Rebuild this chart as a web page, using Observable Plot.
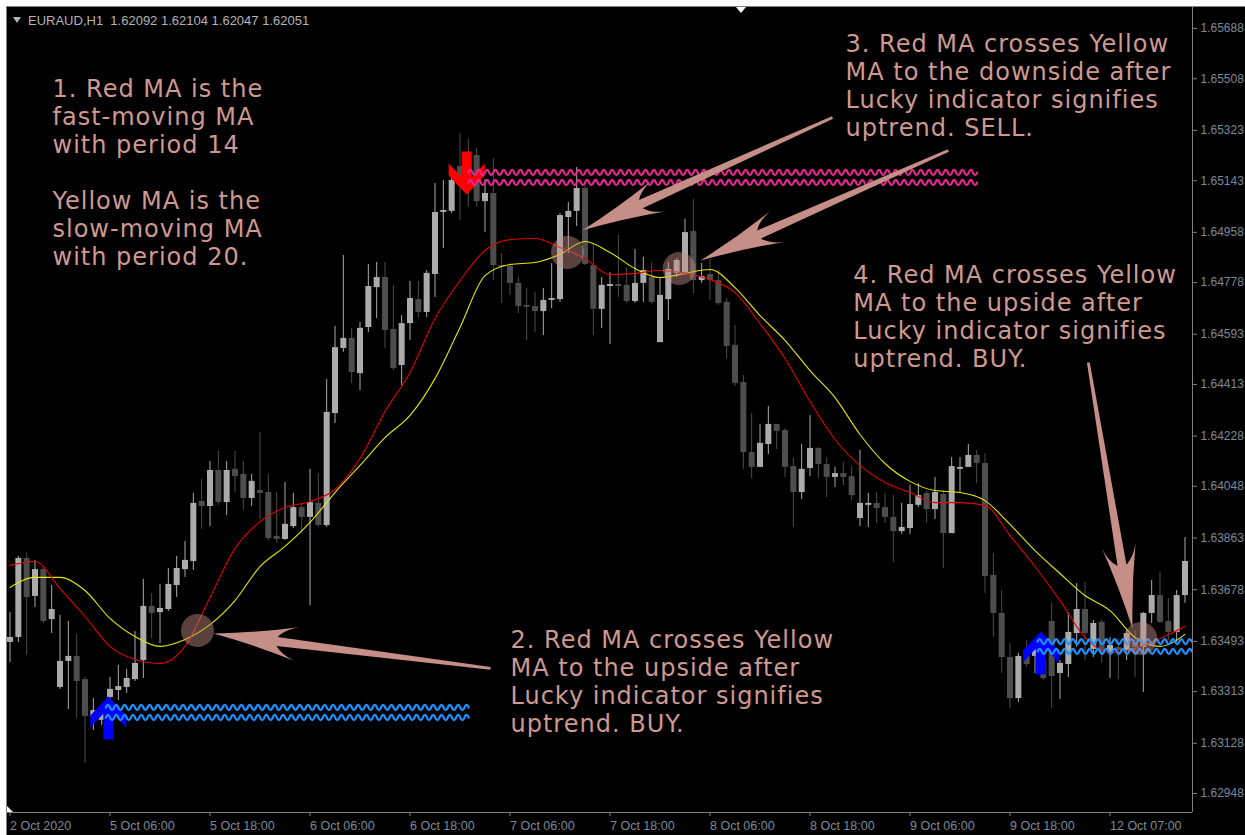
<!DOCTYPE html>
<html><head><meta charset="utf-8">
<script src="https://cdn.jsdelivr.net/npm/d3@7"></script>
<script src="https://cdn.jsdelivr.net/npm/@observablehq/plot@0.6"></script>
<style>
html,body{margin:0;padding:0;background:#fff;}
#wrap{position:relative;width:1245px;height:835px;overflow:hidden;background:#fff;}
#chart{position:absolute;left:6px;top:6px;border-left:1px solid #808080;border-top:1px solid #808080;background:#000;}
#chart svg{display:block;}
#chart g[aria-label="text"] text{letter-spacing:1px;}
#hdrTri{position:absolute;left:13px;top:17px;width:0;height:0;border-left:4px solid transparent;border-right:4px solid transparent;border-top:6px solid #b4b4b4;}
#hdr{position:absolute;left:28px;top:13px;font:13px "Liberation Sans",Arial,sans-serif;color:#b4b4b4;white-space:pre;line-height:15px;}
#shiftTri{position:absolute;left:736px;top:7px;width:0;height:0;border-left:5px solid transparent;border-right:5px solid transparent;border-top:6px solid #fff;}
#cornerTri{position:absolute;left:7px;top:806px;width:6px;height:6px;background:#fff;clip-path:polygon(0 0,0 100%,100% 100%);}
</style></head>
<body>
<div id="wrap">
  <div id="chart"></div>
  <div id="hdrTri"></div>
  <div id="hdr">EURAUD,H1  1.62092 1.62104 1.62047 1.62051</div>
  <div id="shiftTri"></div>
  <div id="cornerTri"></div>
</div>
<script>
// ---------------- DATA ----------------
const opens = [1.63489,1.63507,1.63790,1.63654,1.63750,1.63571,1.63328,1.63421,1.63439,1.63356,
1.63220,1.63210,1.63292,1.63317,1.63328,1.63356,1.63424,1.63618,1.63596,1.63607,
1.63693,1.63750,1.63779,1.63994,1.63976,1.64105,1.63990,1.64109,1.64091,1.64005,
1.64033,1.64026,1.63869,1.63858,1.63904,1.63972,1.63937,1.63987,1.63908,1.64309,
1.64542,1.64578,1.64452,1.64617,1.64760,1.64796,1.64610,1.64481,1.64631,1.64717,
1.64671,1.64807,1.65029,1.65033,1.65194,1.65215,1.65233,1.65068,1.65097,1.64839,
1.64836,1.64775,1.64696,1.64692,1.64674,1.64714,1.64717,1.65011,1.65033,1.65115,
1.64839,1.64682,1.64764,1.64771,1.64768,1.64710,1.64775,1.64796,1.64563,1.64717,
1.64811,1.64814,1.64961,1.64785,1.64807,1.64785,1.64707,1.64553,1.64420,1.64169,
1.64116,1.64198,1.64270,1.64248,1.64119,1.64026,1.64112,1.64184,1.64126,1.64080,
1.64094,1.64083,1.63933,1.63980,1.63987,1.63972,1.63937,1.63886,1.63897,1.63980,
1.64023,1.63965,1.64019,1.63879,1.64109,1.64116,1.64159,1.64130,1.63729,1.63593,
1.63435,1.63288,1.63439,1.63439,1.63424,1.63564,1.63378,1.63410,1.63521,1.63607,
1.63464,1.63561,1.63450,1.63471,1.63460,1.63485,1.63471,1.63593,1.63657,1.63564,
1.63525,1.63657];
const highs = [1.63596,1.63797,1.63811,1.63783,1.63758,1.63693,1.63586,1.63564,1.63518,1.63364,
1.63288,1.63263,1.63364,1.63407,1.63392,1.63528,1.63715,1.63664,1.63697,1.63754,
1.63797,1.63851,1.64023,1.64073,1.64137,1.64173,1.64137,1.64173,1.64137,1.64091,
1.64241,1.64091,1.64026,1.64062,1.64023,1.63987,1.64109,1.64094,1.64431,1.64621,
1.64875,1.64614,1.64635,1.64843,1.64850,1.64850,1.64768,1.64660,1.64782,1.64782,
1.64821,1.65133,1.65144,1.65151,1.65312,1.65290,1.65258,1.65147,1.65222,1.64882,
1.64846,1.64796,1.64757,1.64742,1.64757,1.64846,1.65025,1.65065,1.65190,1.65126,
1.64918,1.64796,1.64814,1.64947,1.64832,1.64897,1.64868,1.64850,1.64796,1.64850,
1.64864,1.65004,1.65076,1.64846,1.64861,1.64821,1.64721,1.64624,1.64445,1.64309,
1.64270,1.64334,1.64270,1.64255,1.64148,1.64198,1.64302,1.64187,1.64151,1.64116,
1.64134,1.64119,1.64177,1.64023,1.64026,1.64023,1.64015,1.63987,1.64051,1.64058,
1.64033,1.64080,1.64033,1.64151,1.64151,1.64198,1.64177,1.64166,1.63808,1.63675,
1.63485,1.63450,1.63496,1.63496,1.63467,1.63629,1.63424,1.63596,1.63700,1.63704,
1.63568,1.63568,1.63507,1.63503,1.63532,1.63532,1.63596,1.63711,1.63740,1.63646,
1.63675,1.63865];
const lows = [1.63417,1.63489,1.63442,1.63614,1.63557,1.63521,1.63321,1.63249,1.63217,1.63056,
1.63174,1.63192,1.63245,1.63281,1.63306,1.63349,1.63360,1.63503,1.63485,1.63600,
1.63650,1.63722,1.63747,1.63894,1.63904,1.63980,1.63944,1.64026,1.63962,1.63976,
1.63929,1.63854,1.63844,1.63854,1.63897,1.63879,1.63621,1.63901,1.63901,1.64273,
1.64528,1.64417,1.64391,1.64599,1.64649,1.64542,1.64463,1.64409,1.64571,1.64653,
1.64653,1.64725,1.64900,1.65025,1.65000,1.65047,1.65047,1.64957,1.64785,1.64703,
1.64732,1.64667,1.64571,1.64599,1.64588,1.64685,1.64707,1.64882,1.64979,1.64839,
1.64588,1.64614,1.64556,1.64725,1.64703,1.64703,1.64707,1.64700,1.64563,1.64642,
1.64796,1.64803,1.64739,1.64775,1.64714,1.64696,1.64506,1.64406,1.64109,1.64076,
1.64116,1.64162,1.64180,1.64080,1.63901,1.64001,1.64083,1.64076,1.64008,1.64044,
1.64051,1.63997,1.63904,1.63901,1.63915,1.63915,1.63775,1.63876,1.63876,1.63972,
1.63915,1.63929,1.63754,1.63879,1.64026,1.64116,1.64058,1.63664,1.63507,1.63378,
1.63253,1.63274,1.63399,1.63378,1.63353,1.63253,1.63285,1.63364,1.63471,1.63424,
1.63435,1.63414,1.63360,1.63356,1.63424,1.63364,1.63310,1.63557,1.63557,1.63496,
1.63489,1.63629];
const closes = [1.63507,1.63790,1.63650,1.63750,1.63564,1.63607,1.63421,1.63439,1.63349,1.63224,
1.63245,1.63238,1.63321,1.63331,1.63360,1.63414,1.63618,1.63593,1.63611,1.63697,
1.63754,1.63783,1.63987,1.63976,1.64105,1.63990,1.64105,1.64083,1.64005,1.64066,
1.64023,1.63861,1.63858,1.63912,1.63972,1.63937,1.63990,1.63908,1.64313,1.64545,
1.64578,1.64456,1.64614,1.64764,1.64796,1.64606,1.64470,1.64631,1.64721,1.64671,
1.64811,1.65029,1.65036,1.65144,1.65126,1.65108,1.65068,1.65097,1.64839,1.64832,
1.64775,1.64692,1.64689,1.64674,1.64714,1.64721,1.65018,1.65033,1.65115,1.64843,
1.64682,1.64768,1.64771,1.64764,1.64710,1.64775,1.64821,1.64707,1.64732,1.64825,
1.64857,1.64957,1.64785,1.64800,1.64785,1.64703,1.64549,1.64417,1.64169,1.64116,
1.64202,1.64270,1.64245,1.64116,1.64026,1.64109,1.64184,1.64126,1.64080,1.64094,
1.64080,1.64015,1.63987,1.63987,1.63969,1.63937,1.63886,1.63901,1.63983,1.64015,
1.63965,1.64026,1.63879,1.64119,1.64116,1.64159,1.64130,1.63725,1.63593,1.63435,
1.63288,1.63439,1.63410,1.63467,1.63360,1.63367,1.63414,1.63525,1.63607,1.63521,
1.63557,1.63453,1.63478,1.63460,1.63521,1.63471,1.63593,1.63657,1.63561,1.63525,
1.63657,1.63779];

// moving averages, read at every third bar
const maBars = [0,3,6,9,12,15,18,21,24,27,30,33,36,39,42,45,48,51,54,57,60,63,66,69,72,75,78,81,84,87,90,93,96,99,102,105,108,111,114,117,120,123,126,129,132,135,138,141];
const maFast = [1.63765,1.63779,1.63682,1.63582,1.63475,1.63428,1.63414,1.63475,1.63650,1.63826,
1.63922,1.63972,1.63994,1.64037,1.64148,1.64316,1.64456,1.64649,1.64785,1.64893,
1.64932,1.64936,1.64904,1.64864,1.64807,1.64811,1.64821,1.64811,1.64789,1.64742,
1.64631,1.64506,1.64352,1.64216,1.64123,1.64062,1.64026,1.63990,1.63990,1.63980,
1.63872,1.63761,1.63639,1.63507,1.63453,1.63467,1.63503,1.63546];
const maSlow = [1.63686,1.63722,1.63722,1.63675,1.63575,1.63510,1.63475,1.63500,1.63553,1.63639,
1.63761,1.63833,1.63919,1.64026,1.64123,1.64223,1.64302,1.64434,1.64617,1.64803,
1.64843,1.64850,1.64879,1.64925,1.64886,1.64828,1.64796,1.64811,1.64825,1.64760,
1.64660,1.64571,1.64463,1.64366,1.64234,1.64130,1.64066,1.64033,1.64026,1.63997,
1.63912,1.63818,1.63736,1.63657,1.63603,1.63507,1.63475,1.63518];

// axis ticks
const xTickBars = [0,12,24,36,48,60,72,84,96,108,120,132];
const xTickLabels = ["2 Oct 2020","5 Oct 06:00","5 Oct 18:00","6 Oct 06:00","6 Oct 18:00","7 Oct 06:00","7 Oct 18:00","8 Oct 06:00","8 Oct 18:00","9 Oct 06:00","9 Oct 18:00","12 Oct 07:00"];
const yTicks = [1.65688,1.65508,1.65323,1.65143,1.64958,1.64778,1.64593,1.64413,1.64228,1.64048,1.63863,1.63678,1.63493,1.63313,1.63128,1.62948];

// Lucky indicator signals
const sellBars = [54.8], sellPrices = [1.65169];
const buyBars = [11.8, 123.7], buyPrices = [1.63220, 1.63453];
// wavy levels
const sellLevelPrices = [1.65172, 1.65136], sellLevelFrom = 55, sellLevelTo = 116.2;
const buyLevel1Prices = [1.63256, 1.63220], buyLevel1From = 11.5, buyLevel1To = 55.3;
const buyLevel2Prices = [1.63492, 1.63457], buyLevel2From = 123.3, buyLevel2To = 142;

// annotations
const crossBars = [22.5, 66.9, 80.3, 135.7];
const crossPrices = [1.63532, 1.64886, 1.64828, 1.63503];
const arrowTailBars = [57.66, 98.7, 112.6, 129.4];
const arrowTailPrices = [1.63396, 1.65369, 1.65251, 1.64492];
const arrowTipBars = [24.42, 68.7, 82.86, 134.7];
const arrowTipPrices = [1.63521, 1.64965, 1.64857, 1.63539];
const noteTexts = [
  "1. Red MA is the\nfast-moving MA\nwith period 14\n\nYellow MA is the\nslow-moving MA\nwith period 20.",
  "2. Red MA crosses Yellow\nMA to the upside after\nLucky indicator signifies\nuptrend. BUY.",
  "3. Red MA crosses Yellow\nMA to the downside after\nLucky indicator signifies\nuptrend. SELL.",
  "4. Red MA crosses Yellow\nMA to the upside after\nLucky indicator signifies\nuptrend. BUY."
];
const noteBars = [5.1, 60.06, 100.26, 101.2];
const notePrices = [1.65513, 1.63539, 1.65674, 1.64846];

// ---------------- STYLE ----------------
const BULL = "#ababab", BEAR = "#4d4d4d";
const ANNOT = "#c58f88", NOTE = "#cf9990";
const AXIS_TEXT = "#7d8a96", AXIS_LINE = "#7f7f7f";

// ---------------- HELPERS ----------------
function waveCurve(context) {
  let pts;
  return {
    areaStart() {}, areaEnd() {},
    lineStart() { pts = []; },
    point(x, y) { pts.push([+x, +y]); },
    lineEnd() {
      if (pts.length < 2) return;
      const [x0, y0] = pts[0], [x1, y1] = pts[pts.length - 1];
      const len = Math.hypot(x1 - x0, y1 - y0);
      const ux = (x1 - x0) / len, uy = (y1 - y0) / len, nx = -uy, ny = ux;
      const half = 4.17, amp = 2.6;
      const n = Math.floor(len / half);
      context.moveTo(x0, y0);
      for (let k = 0; k < n; k++) {
        const s = k * half, sg = k % 2 ? 1 : -1;
        context.quadraticCurveTo(
          x0 + ux * (s + half / 2) + nx * sg * 2 * amp, y0 + uy * (s + half / 2) + ny * sg * 2 * amp,
          x0 + ux * (s + half), y0 + uy * (s + half));
      }
    }
  };
}
function arrowCurve(context) {
  let pts;
  return {
    areaStart() {}, areaEnd() {},
    lineStart() { pts = []; },
    point(x, y) { pts.push([+x, +y]); },
    lineEnd() {
      if (pts.length < 2) return;
      const [sx, sy] = pts[0], [tx, ty] = pts[pts.length - 1];
      const len = Math.hypot(tx - sx, ty - sy);
      const ux = (tx - sx) / len, uy = (ty - sy) / len, nx = -uy, ny = ux;
      const L = 84, B = 17, Ln = 64, w0 = 1.4, w1 = 4.5;
      const P = (d, w) => [tx - ux * d + nx * w, ty - uy * d + ny * w];
      context.moveTo(sx + nx * w0, sy + ny * w0);
      context.lineTo(...P(Ln, w1));
      context.quadraticCurveTo(...P(Ln + 6, (w1 + B) / 2 + 2), ...P(L, B));
      context.quadraticCurveTo(...P(L * 0.5, B * 0.36), tx, ty);
      context.quadraticCurveTo(...P(L * 0.5, -B * 0.36), ...P(L, -B));
      context.quadraticCurveTo(...P(Ln + 6, -((w1 + B) / 2 + 2)), ...P(Ln, -w1));
      context.lineTo(sx - nx * w0, sy - ny * w0);
      context.closePath();
    }
  };
}
const upShape = [[-5,22],[5,22],[5,-3.7],[18,10],[18,-2],[0,-21],[-18,-2],[-18,10],[-5,-3.7]];
function makeSymbol(shape) {
  return {
    draw(context, size) {
      const k = Math.sqrt(size / Math.PI) / 22;
      shape.forEach(([x, y], j) => j ? context.lineTo(x * k, y * k) : context.moveTo(x * k, y * k));
      context.closePath();
    }
  };
}
const upArrow = makeSymbol(upShape);
const downArrow = makeSymbol(upShape.map(([x, y]) => [x, -y]));

// ---------------- TABLES ----------------
const candles = opens.map((o, i) => ({i, o, h: highs[i], l: lows[i], c: closes[i]}));
const bull = candles.filter(d => d.c >= d.o), bear = candles.filter(d => d.c < d.o);
const fast = maBars.map((b, k) => ({b, v: maFast[k]}));
const slow = maBars.map((b, k) => ({b, v: maSlow[k]}));
const levels = (prices, from, to, tag) => prices.flatMap((v, k) => [{id: tag + k, b: from, v}, {id: tag + k, b: to, v}]);
const sellWaves = levels(sellLevelPrices, sellLevelFrom, sellLevelTo, "s");
const buyWaves = levels(buyLevel1Prices, buyLevel1From, buyLevel1To, "a").concat(levels(buyLevel2Prices, buyLevel2From, buyLevel2To, "b"));
const sells = sellBars.map((b, k) => ({b, v: sellPrices[k]}));
const buys = buyBars.map((b, k) => ({b, v: buyPrices[k]}));
const crosses = crossBars.map((b, k) => ({b, v: crossPrices[k]}));
const arrows = arrowTailBars.flatMap((b, k) => [{id: k, b, v: arrowTailPrices[k]}, {id: k, b: arrowTipBars[k], v: arrowTipPrices[k]}]);
const notes = noteTexts.map((t, k) => ({t, b: noteBars[k], v: notePrices[k]}));
const xLabel = new Map(xTickBars.map((b, k) => [b, xTickLabels[k]]));

const xDomain = [-0.3, 141.9];
const yDomain = [1.628800, 1.657632];

const chart = Plot.plot({
  width: 1238, height: 828,
  marginLeft: 0, marginRight: 53, marginTop: 0, marginBottom: 23,
  x: {domain: xDomain},
  y: {domain: yDomain},
  style: {background: "#000", color: "#fff", overflow: "visible"},
  marks: [
    Plot.ruleX(bull, {x: "i", y1: "l", y2: "h", stroke: BULL, strokeWidth: 1}),
    Plot.ruleX(bear, {x: "i", y1: "l", y2: "h", stroke: BEAR, strokeWidth: 1}),
    Plot.ruleX(bull, {x: "i", y1: "o", y2: "c", stroke: BULL, strokeWidth: 6}),
    Plot.ruleX(bear, {x: "i", y1: "o", y2: "c", stroke: BEAR, strokeWidth: 6}),
    Plot.line(slow, {x: "b", y: "v", stroke: "#e6e600", strokeWidth: 1.1, curve: "monotone-x"}),
    Plot.line(fast, {x: "b", y: "v", stroke: "#e00000", strokeWidth: 1.1, curve: "monotone-x"}),
    Plot.dot(sells, {x: "b", y: "v", r: 22, symbol: downArrow, fill: "#ff0000", stroke: "none"}),
    Plot.dot(buys, {x: "b", y: "v", r: 22, symbol: upArrow, fill: "#0000ff", stroke: "none"}),
    Plot.line(sellWaves, {x: "b", y: "v", z: "id", stroke: "#e3288c", strokeWidth: 2.3, curve: waveCurve, clip: true}),
    Plot.line(buyWaves, {x: "b", y: "v", z: "id", stroke: "#1e90ff", strokeWidth: 2.3, curve: waveCurve, clip: true}),
    Plot.dot(crosses, {x: "b", y: "v", r: 16.5, fill: "#c8918a", fillOpacity: 0.45, stroke: "none"}),
    Plot.line(arrows, {x: "b", y: "v", z: "id", curve: arrowCurve, fill: ANNOT, stroke: "none"}),
    Plot.text(notes, {x: "b", y: "v", text: "t", textAnchor: "start", lineAnchor: "top", lineHeight: 1.1667,
      fontSize: 24, fontFamily: "DejaVu Sans", fill: NOTE}),
    Plot.ruleX([xDomain[1]], {stroke: AXIS_LINE}),
    Plot.ruleY([yDomain[0]], {stroke: AXIS_LINE}),
    Plot.axisX({ticks: xTickBars, tickFormat: d => xLabel.get(d), tickSize: 4, tickPadding: 5,
      textAnchor: "start", fill: AXIS_TEXT, stroke: AXIS_LINE, fontSize: 12.5, fontFamily: "Liberation Sans", label: null}),
    Plot.axisY({anchor: "right", ticks: yTicks, tickFormat: d => d.toFixed(5), tickSize: 4, tickPadding: 4,
      fill: AXIS_TEXT, stroke: AXIS_LINE, fontSize: 12, fontFamily: "Liberation Sans", label: null})
  ]
});
document.getElementById("chart").appendChild(chart);
</script>
</body></html>
